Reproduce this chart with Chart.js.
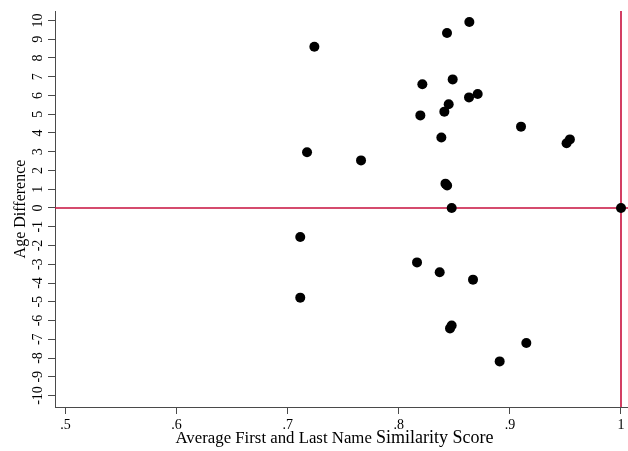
<!DOCTYPE html>
<html>
<head>
<meta charset="utf-8">
<script src="https://cdn.jsdelivr.net/npm/chart.js@4.4.1/dist/chart.umd.min.js"></script>
<style>
  html, body { margin: 0; padding: 0; background: #ffffff; }
  #grafico { display: block; }
</style>
</head>
<body>
<canvas id="grafico" width="628" height="451"></canvas>
<script>
// dados
const similaridade = [
  0.8635, 0.8434, 0.724, 0.8485, 0.8212, 0.871, 0.8632, 0.8449, 0.841, 0.8194,
  0.910, 0.8383, 0.954, 0.951, 0.7174, 0.766, 0.842, 0.8435, 0.8476, 1.0,
  0.7113, 0.8164, 0.8368, 0.8668, 0.7113, 0.8476, 0.8461, 0.9148, 0.8908,
];
const diferencaIdade = [
  9.92, 9.33, 8.6, 6.86, 6.6, 6.08, 5.9, 5.53, 5.14, 4.94,
  4.34, 3.76, 3.66, 3.45, 2.97, 2.54, 1.3, 1.2, 0, 0,
  -1.55, -2.9, -3.43, -3.82, -4.78, -6.27, -6.42, -7.2, -8.18,
];

const ticksX = [0.5, 0.6, 0.7, 0.8, 0.9, 1];
const rotulosX = ['.5', '.6', '.7', '.8', '.9', '1'];
const ticksY = [-10, -9, -8, -7, -6, -5, -4, -3, -2, -1, 0, 1, 2, 3, 4, 5, 6, 7, 8, 9, 10];
const rotulosY = ticksY.map((v) => String(v));

const tituloX = ['Average First and Last Name', 'Similarity Score'];
const tituloY = 'Age Difference';

const linhaRefY = 0;
const linhaRefX = 1;

const FONTE = "'Liberation Serif', 'Times New Roman', serif";
const COR_EIXO = '#4a4a4a';
const COR_REF = '#c8103e';

const pontos = similaridade.map((x, i) => ({ x, y: diferencaIdade[i] }));

const linhasReferencia = {
  id: 'linhasReferencia',
  beforeDatasetsDraw(chart) {
    const { ctx, chartArea, scales } = chart;
    const yPix = scales.y.getPixelForValue(linhaRefY);
    const xPix = scales.x.getPixelForValue(linhaRefX);
    ctx.save();
    ctx.strokeStyle = COR_REF;
    ctx.lineWidth = 1.6;
    ctx.beginPath();
    ctx.moveTo(chartArea.left, yPix);
    ctx.lineTo(chartArea.right, yPix);
    ctx.moveTo(xPix, chartArea.top);
    ctx.lineTo(xPix, chartArea.bottom);
    ctx.stroke();
    ctx.restore();
  },
};

const tituloEixoX = {
  id: 'tituloEixoX',
  afterDraw(chart) {
    const { ctx, chartArea } = chart;
    const fonte1 = '16.8px ' + FONTE;
    const fonte2 = '18px ' + FONTE;
    ctx.save();
    ctx.fillStyle = '#000000';
    ctx.textBaseline = 'alphabetic';
    ctx.textAlign = 'left';
    ctx.font = fonte1;
    const larg1 = ctx.measureText(tituloX[0] + ' ').width;
    ctx.font = fonte2;
    const larg2 = ctx.measureText(tituloX[1]).width;
    const centro = (chartArea.left + chartArea.right) / 2 - 7;
    const inicio = centro - (larg1 + larg2) / 2;
    const base = chartArea.bottom + 36;
    ctx.font = fonte1;
    ctx.fillText(tituloX[0], inicio, base);
    ctx.font = fonte2;
    ctx.fillText(tituloX[1], inicio + larg1, base);
    ctx.restore();
  },
};

const fundoBranco = {
  id: 'fundoBranco',
  beforeDraw(chart) {
    const { ctx, width, height } = chart;
    ctx.save();
    ctx.fillStyle = '#ffffff';
    ctx.fillRect(0, 0, width, height);
    ctx.restore();
  },
};

new Chart(document.querySelector('#grafico'), {
  type: 'scatter',
  data: {
    datasets: [
      {
        data: pontos,
        backgroundColor: '#000000',
        borderWidth: 0,
        pointRadius: 5,
        pointHoverRadius: 5,
      },
    ],
  },
  options: {
    responsive: false,
    devicePixelRatio: 1,
    animation: false,
    events: [],
    layout: {
      autoPadding: false,
      padding: { top: 11, right: 0, left: 0, bottom: 0 },
    },
    plugins: {
      legend: { display: false },
      tooltip: { enabled: false },
    },
    scales: {
      x: {
        type: 'linear',
        min: 0.5 - 10.5 / 1111,
        max: 1 + 7 / 1111,
        afterBuildTicks: (escala) => {
          escala.ticks = ticksX.map((value) => ({ value }));
        },
        afterFit: (escala) => {
          escala.height = 44;
        },
        grid: {
          drawOnChartArea: false,
          drawTicks: true,
          tickLength: 7,
          color: COR_EIXO,
          lineWidth: 1,
        },
        border: { display: true, color: COR_EIXO, width: 1 },
        ticks: {
          autoSkip: false,
          maxRotation: 0,
          minRotation: 0,
          padding: 3,
          color: '#000000',
          font: { family: FONTE, size: 14 },
          callback: (value, index) => rotulosX[index],
        },
      },
      y: {
        type: 'linear',
        min: -199 / 18.75,
        max: 197 / 18.75,
        afterBuildTicks: (escala) => {
          escala.ticks = ticksY.map((value) => ({ value }));
        },
        afterFit: (escala) => {
          escala.width = 55;
        },
        grid: {
          drawOnChartArea: false,
          drawTicks: true,
          tickLength: 7,
          color: COR_EIXO,
          lineWidth: 1,
        },
        border: { display: true, color: COR_EIXO, width: 1 },
        ticks: {
          autoSkip: false,
          minRotation: 90,
          maxRotation: 90,
          crossAlign: 'center',
          padding: 0,
          color: '#000000',
          font: { family: FONTE, size: 14 },
          callback: (value, index) => rotulosY[index],
        },
        title: {
          display: true,
          text: tituloY,
          color: '#000000',
          font: { family: FONTE, size: 16 },
          padding: { top: 11, bottom: 0 },
        },
      },
    },
  },
  plugins: [fundoBranco, linhasReferencia, tituloEixoX],
});
</script>
</body>
</html>
